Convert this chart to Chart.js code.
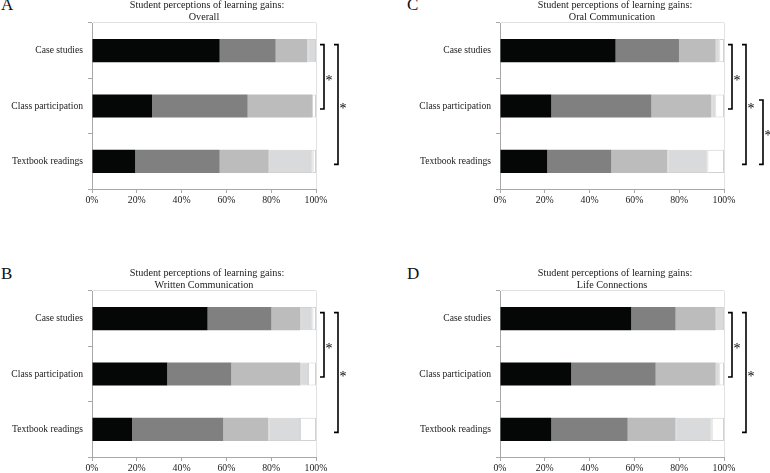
<!DOCTYPE html>
<html>
<head>
<meta charset="utf-8">
<script src="https://cdn.jsdelivr.net/npm/chart.js@4/dist/chart.umd.min.js"></script>
<style>
  html, body { margin: 0; padding: 0; background: #fff; }
  body { width: 770px; height: 473px; position: relative; overflow: hidden; }
  .panel { position: absolute; width: 408px; height: 218px; }
  .letter { position: absolute; font-family: 'Liberation Serif', serif; font-size: 17px; line-height: 17px; color: #111; }
</style>
</head>
<body>
<div class="letter" style="left:1px; top:-4px;">A</div>
<div class="letter" style="left:407px; top:-4px;">C</div>
<div class="letter" style="left:1px; top:265px;">B</div>
<div class="letter" style="left:407px; top:265px;">D</div>

<div class="panel" style="left:0px; top:-7px;"><canvas id="chartA" width="408" height="218"></canvas></div>
<div class="panel" style="left:408px; top:-7px;"><canvas id="chartC" width="408" height="218"></canvas></div>
<div class="panel" style="left:0px; top:261px;"><canvas id="chartB" width="408" height="218"></canvas></div>
<div class="panel" style="left:408px; top:261px;"><canvas id="chartD" width="408" height="218"></canvas></div>

<script>
// Categorias (eixo vertical)
const categories = ['Case studies', 'Class participation', 'Textbook readings'];
const xTicks = [0, 20, 40, 60, 80, 100];
const titleLine1 = 'Student perceptions of learning gains:';

// Painel A - Overall (percentual por nível de ganho, do maior para o menor)
const overallLevel1 = [57.0, 26.8, 19.3];
const overallLevel2 = [25.0, 42.7, 37.7];
const overallLevel3 = [14.1, 28.7, 21.9];
const overallLevel4 = [3.9, 0.0, 19.6];
const overallLevel5 = [0.0, 1.8, 1.5];
const overallBrackets = [[0, 1], [0, 2]];

// Painel B - Written Communication
const writtenLevel1 = [51.6, 33.6, 17.9];
const writtenLevel2 = [28.5, 28.6, 40.7];
const writtenLevel3 = [12.8, 30.7, 20.1];
const writtenLevel4 = [5.5, 3.5, 14.2];
const writtenLevel5 = [1.6, 3.6, 7.1];
const writtenBrackets = [[0, 1], [0, 2]];

// Painel C - Oral Communication
const oralLevel1 = [51.6, 22.9, 21.1];
const oralLevel2 = [28.3, 44.7, 28.6];
const oralLevel3 = [16.4, 26.7, 25.0];
const oralLevel4 = [1.6, 1.8, 17.9];
const oralLevel5 = [2.1, 3.9, 7.4];
const oralBrackets = [[0, 1], [0, 2], [1, 2]];

// Painel D - Life Connections
const lifeLevel1 = [58.6, 31.8, 22.9];
const lifeLevel2 = [19.8, 37.7, 34.1];
const lifeLevel3 = [17.9, 26.8, 21.4];
const lifeLevel4 = [3.7, 1.6, 16.1];
const lifeLevel5 = [0.0, 2.1, 5.5];
const lifeBrackets = [[0, 1], [0, 2]];

const levelColors = ['#050707', '#7f807f', '#bcbcbc', '#d9dadb', '#ffffff'];
const serif = "'Liberation Serif', 'Times New Roman', serif";

// Título centralizado sobre a área do gráfico
const titlePlugin = {
    id: 'panelTitle',
    afterDraw(chart, args, opts) {
        const area = chart.chartArea;
        const ctx = chart.ctx;
        const cx = (area.left + area.right) / 2;
        ctx.save();
        ctx.fillStyle = '#1a1a1a';
        ctx.font = '10.2px ' + serif;
        ctx.textAlign = 'center';
        ctx.textBaseline = 'alphabetic';
        ctx.fillText(titleLine1, cx + 3, area.top - 15.5);
        ctx.fillText(opts.subtitle, cx, area.top - 3.5);
        ctx.restore();
    }
};

// Plugin para desenhar os colchetes de significância
const bracketPlugin = {
    id: 'sigBrackets',
    afterDraw(chart, args, opts) {
        const brackets = opts.pairs || [];
        const yScale = chart.scales.y;
        const area = chart.chartArea;
        const offsets = [8, 22, 39];
        const ctx = chart.ctx;
        ctx.save();
        ctx.strokeStyle = '#000';
        ctx.fillStyle = '#000';
        ctx.lineWidth = 1.6;
        brackets.forEach((pair, i) => {
            const x = area.right + offsets[i];
            const y1 = yScale.getPixelForValue(pair[0]) - 6;
            const y2 = yScale.getPixelForValue(pair[1]) + 3;
            ctx.beginPath();
            ctx.moveTo(x - 4, y1);
            ctx.lineTo(x, y1);
            ctx.lineTo(x, y2);
            ctx.lineTo(x - 4, y2);
            ctx.stroke();
            ctx.font = '14px ' + serif;
            ctx.textAlign = 'center';
            ctx.textBaseline = 'alphabetic';
            ctx.fillText('*', x + 5, (y1 + y2) / 2 + 8);
        });
        ctx.restore();
    }
};

function criarGrafico(canvasId, subtitle, levels, brackets) {
    const ctx = document.getElementById(canvasId).getContext('2d');
    return new Chart(ctx, {
        type: 'bar',
        data: {
            labels: categories,
            datasets: levels.map((values, i) => ({
                label: 'Level ' + (i + 1),
                data: values,
                backgroundColor: levelColors[i],
                borderColor: i >= 3 ? '#d2d2d2' : levelColors[i],
                borderWidth: i >= 3 ? 1 : 0,
                borderSkipped: false,
                categoryPercentage: 1,
                barPercentage: 0.42
            }))
        },
        options: {
            indexAxis: 'y',
            responsive: false,
            animation: false,
            layout: { padding: { left: 0, right: 92, top: 30, bottom: 0 } },
            scales: {
                x: {
                    stacked: true,
                    min: 0,
                    max: 100,
                    afterFit: (scale) => { scale.height = 22; },
                    afterBuildTicks: (scale) => { scale.ticks = xTicks.map(v => ({ value: v })); },
                    ticks: {
                        callback: (v) => v + '%',
                        font: { family: serif, size: 9.8 },
                        color: '#222',
                        padding: 2,
                        maxRotation: 0
                    },
                    grid: {
                        drawOnChartArea: true,
                        color: (c) => (c.tick && c.tick.value === 100 ? '#e2e2e2' : 'rgba(0,0,0,0)'),
                        tickColor: '#a8a8a8',
                        tickLength: 4
                    },
                    border: { color: '#a8a8a8', width: 1 }
                },
                y: {
                    stacked: true,
                    afterFit: (scale) => { scale.width = 92; },
                    ticks: {
                        font: { family: serif, size: 9.6 },
                        color: '#222',
                        padding: 5
                    },
                    grid: {
                        offset: true,
                        drawOnChartArea: true,
                        color: (c) => (c.index === 0 ? '#e2e2e2' : 'rgba(0,0,0,0)'),
                        tickColor: '#a8a8a8',
                        tickLength: 4
                    },
                    border: { color: '#a8a8a8', width: 1 }
                }
            },
            plugins: {
                legend: { display: false },
                tooltip: { enabled: false },
                title: { display: false },
                panelTitle: { subtitle: subtitle },
                sigBrackets: { pairs: brackets }
            }
        },
        plugins: [titlePlugin, bracketPlugin]
    });
}

document.addEventListener('DOMContentLoaded', () => {
    criarGrafico('chartA', 'Overall',
        [overallLevel1, overallLevel2, overallLevel3, overallLevel4, overallLevel5], overallBrackets);
    criarGrafico('chartB', 'Written Communication',
        [writtenLevel1, writtenLevel2, writtenLevel3, writtenLevel4, writtenLevel5], writtenBrackets);
    criarGrafico('chartC', 'Oral Communication',
        [oralLevel1, oralLevel2, oralLevel3, oralLevel4, oralLevel5], oralBrackets);
    criarGrafico('chartD', 'Life Connections',
        [lifeLevel1, lifeLevel2, lifeLevel3, lifeLevel4, lifeLevel5], lifeBrackets);
});
</script>
</body>
</html>
